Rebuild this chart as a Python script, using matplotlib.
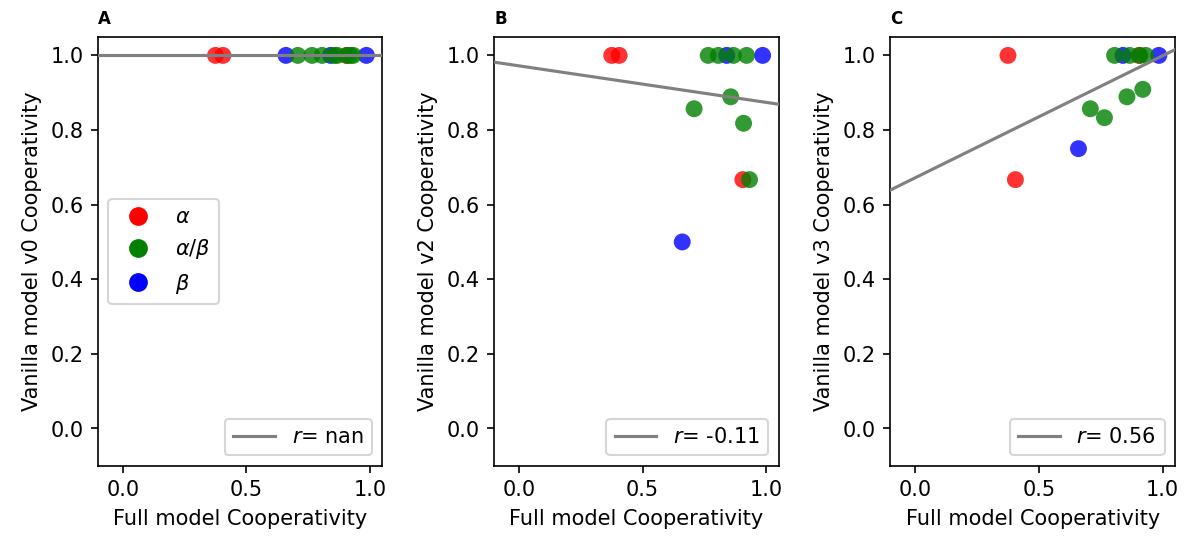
import numpy as np
import matplotlib.pyplot as plt
from matplotlib.lines import Line2D

# Full model cooperativity per complex, with its class
full_coop = [0.375, 0.405, 0.905,
             0.660, 0.840, 0.985,
             0.708, 0.765, 0.806, 0.856, 0.867, 0.908, 0.920, 0.932]
classes = ['a', 'a', 'a',
           'b', 'b', 'b',
           'ab', 'ab', 'ab', 'ab', 'ab', 'ab', 'ab', 'ab']

# Vanilla model cooperativities for the same complexes
v0_coop = [1.0] * 14
v2_coop = [1.0, 1.0, 0.667,
           0.5, 1.0, 1.0,
           0.857, 1.0, 1.0, 0.889, 1.0, 0.818, 1.0, 0.667]
v3_coop = [1.0, 0.667, 1.0,
           0.75, 1.0, 1.0,
           0.857, 0.833, 1.0, 0.889, 1.0, 1.0, 0.909, 1.0]

# linear fit (intercept, slope) and correlation labels for each panel
fit_intercepts = [1.0, 0.972, 0.672]
fit_slopes = [0.0, -0.098, 0.327]
r_labels = ['nan', '-0.11', '0.56']

panel_names = ['A', 'B', 'C']
versions = ['v0', 'v2', 'v3']
class_colors = {'a': 'red', 'ab': 'green', 'b': 'blue'}
class_labels = {'a': r'$\alpha$', 'ab': r'$\alpha/\beta$', 'b': r'$\beta$'}

fig, axes = plt.subplots(1, 3, figsize=(7.92, 3.607), dpi=150)
fig.subplots_adjust(left=0.0825, right=0.989, top=0.932, bottom=0.139, wspace=0.393)

x = np.array(full_coop)
cols = [class_colors[c] for c in classes]
for i, (ax, yvals) in enumerate(zip(axes, [v0_coop, v2_coop, v3_coop])):
    ax.scatter(x, yvals, c=cols, s=66, alpha=0.8, linewidths=0, zorder=2)
    ax.axline((0, fit_intercepts[i]), slope=fit_slopes[i],
              color='grey', lw=1.5, zorder=3)
    ax.set_xlim(-0.1, 1.05)
    ax.set_ylim(-0.1, 1.05)
    ax.set_xticks([0.0, 0.5, 1.0])
    ax.set_yticks([0.0, 0.2, 0.4, 0.6, 0.8, 1.0])
    ax.set_xlabel('Full model Cooperativity')
    ax.set_ylabel(f'Vanilla model {versions[i]} Cooperativity')
    ax.set_title(panel_names[i], loc='left', fontweight='bold', fontsize=8)
    leg_r = ax.legend([Line2D([], [], color='grey', lw=1.5)],
                      [f'$r$= {r_labels[i]}'], loc='lower right')
    if i == 0:
        handles = [Line2D([], [], marker='o', ls='', color=class_colors[k],
                          markersize=8) for k in ['a', 'ab', 'b']]
        ax.legend(handles, [class_labels[k] for k in ['a', 'ab', 'b']],
                  loc='center left')
        ax.add_artist(leg_r)

plt.savefig('out.png')
